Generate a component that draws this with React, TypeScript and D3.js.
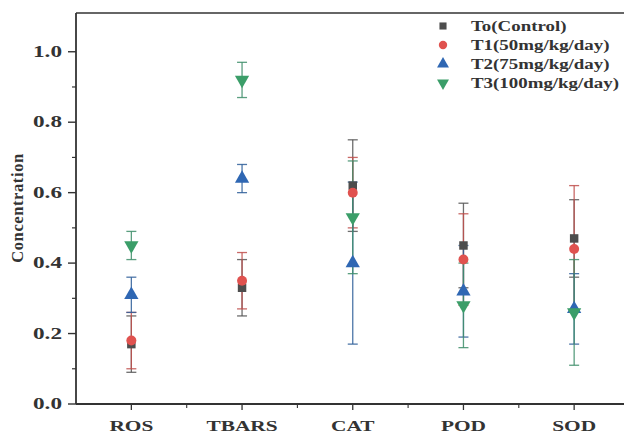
import React, { useRef, useEffect } from 'react';
import * as d3 from 'd3';

const categories = ['ROS', 'TBARS', 'CAT', 'POD', 'SOD'];
const seriesNames = ['To(Control)', 'T1(50mg/kg/day)', 'T2(75mg/kg/day)', 'T3(100mg/kg/day)'];

// means and error (± sd) for each group, per category
const t0Mean = [0.17, 0.33, 0.62, 0.45, 0.47];
const t0Err = [0.08, 0.08, 0.13, 0.12, 0.11];
const t1Mean = [0.18, 0.35, 0.60, 0.41, 0.44];
const t1Err = [0.08, 0.08, 0.10, 0.13, 0.18];
const t2Mean = [0.31, 0.64, 0.40, 0.32, 0.27];
const t2Err = [0.05, 0.04, 0.23, 0.13, 0.10];
const t3Mean = [0.45, 0.92, 0.53, 0.28, 0.26];
const t3Err = [0.04, 0.05, 0.16, 0.12, 0.15];

const yTicks = [0, 0.2, 0.4, 0.6, 0.8, 1.0];
const yMinorTicks = [0.1, 0.3, 0.5, 0.7, 0.9];

const colors = ['#4d4d4d', '#e0524f', '#2f67b3', '#3b9e69'];
const barColors = ['#555555', '#c0504d', '#2f5f9a', '#3f8f6b'];

function App() {
    const svgRef = useRef();

    useEffect(() => {
        const svg = d3.select(svgRef.current);
        svg.selectAll('*').remove();

        const W = 624;
        const left = 76, top = 13, bottom = 404;
        const x = d3.scaleLinear().domain([0.5, 5.5]).range([left, 629.5]);
        const y = d3.scaleLinear().domain([0, 1.11]).range([bottom, top]);
        const font = '"Times New Roman", "Liberation Serif", Times, serif';
        const sx = 1.38;

        const means = [t0Mean, t1Mean, t2Mean, t3Mean];
        const errs = [t0Err, t1Err, t2Err, t3Err];
        const shapes = [
            { type: d3.symbolSquare, size: 72, rot: 0 },
            { type: d3.symbolCircle, size: 78, rot: 0 },
            { type: d3.symbolTriangle, size: 88, rot: 0 },
            { type: d3.symbolTriangle, size: 88, rot: 180 },
        ];

        // frame
        svg.append('line').attr('x1', left).attr('x2', W).attr('y1', top).attr('y2', top)
            .attr('stroke', '#333').attr('stroke-width', 1.6);
        svg.append('line').attr('x1', left).attr('x2', left).attr('y1', top).attr('y2', bottom)
            .attr('stroke', '#333').attr('stroke-width', 1.8);
        svg.append('line').attr('x1', left).attr('x2', W).attr('y1', bottom).attr('y2', bottom)
            .attr('stroke', '#333').attr('stroke-width', 1.8);

        // y ticks
        svg.selectAll('.ytick').data(yTicks).join('line')
            .attr('x1', left - 8).attr('x2', left)
            .attr('y1', d => y(d)).attr('y2', d => y(d))
            .attr('stroke', '#333').attr('stroke-width', 1.4);
        svg.selectAll('.yminor').data(yMinorTicks).join('line')
            .attr('x1', left - 4).attr('x2', left)
            .attr('y1', d => y(d)).attr('y2', d => y(d))
            .attr('stroke', '#333').attr('stroke-width', 1.2);
        svg.selectAll('.ylab').data(yTicks).join('text')
            .attr('transform', d => `translate(62,${y(d) + 5}) scale(1.45,1)`)
            .attr('text-anchor', 'end')
            .attr('font-family', font).attr('font-weight', 'bold').attr('font-size', 16)
            .attr('fill', '#333')
            .text(d => d.toFixed(1));

        // x ticks
        const xIdx = categories.map((c, i) => i + 1);
        svg.selectAll('.xtick').data(xIdx).join('line')
            .attr('x1', d => x(d)).attr('x2', d => x(d))
            .attr('y1', bottom).attr('y2', bottom + 6)
            .attr('stroke', '#333').attr('stroke-width', 1.3);
        svg.selectAll('.xminor').data(xIdx.slice(0, 4).map(d => d + 0.5)).join('line')
            .attr('x1', d => x(d)).attr('x2', d => x(d))
            .attr('y1', bottom).attr('y2', bottom + 4)
            .attr('stroke', '#333').attr('stroke-width', 1.1);
        svg.selectAll('.xlab').data(categories).join('text')
            .attr('transform', (d, i) => `translate(${x(i + 1)},431) scale(${sx},1)`)
            .attr('text-anchor', 'middle')
            .attr('font-family', font).attr('font-weight', 'bold').attr('font-size', 15.5)
            .attr('fill', '#333')
            .text(d => d);

        // y axis title
        svg.append('text')
            .attr('transform', `translate(23,208) rotate(-90)`)
            .attr('text-anchor', 'middle')
            .attr('font-family', font).attr('font-weight', 'bold').attr('font-size', 16.5)
            .attr('letter-spacing', 0.6)
            .attr('fill', '#333')
            .text('Concentration');

        // error bars and markers
        means.forEach((m, s) => {
            const g = svg.append('g');
            const rows = m.map((v, i) => ({ i: i + 1, v, e: errs[s][i] }));
            g.selectAll('.stem').data(rows).join('line')
                .attr('x1', d => x(d.i)).attr('x2', d => x(d.i))
                .attr('y1', d => y(d.v + d.e)).attr('y2', d => y(d.v - d.e))
                .attr('stroke', barColors[s]).attr('stroke-width', 1.3).attr('opacity', 0.85);
            [1, -1].forEach(sign => {
                g.selectAll('.cap' + sign).data(rows).join('line')
                    .attr('x1', d => x(d.i) - 5).attr('x2', d => x(d.i) + 5)
                    .attr('y1', d => y(d.v + sign * d.e)).attr('y2', d => y(d.v + sign * d.e))
                    .attr('stroke', barColors[s]).attr('stroke-width', 1.3).attr('opacity', 0.85);
            });
        });
        means.forEach((m, s) => {
            const sym = d3.symbol().type(shapes[s].type).size(shapes[s].size);
            svg.append('g').selectAll('path').data(m).join('path')
                .attr('d', sym())
                .attr('transform', (v, i) => `translate(${x(i + 1)},${y(v)}) rotate(${shapes[s].rot})`)
                .attr('fill', colors[s]);
        });

        // legend
        const leg = svg.append('g');
        seriesNames.forEach((name, s) => {
            const ly = 26 + s * 19;
            const sym = d3.symbol().type(shapes[s].type).size(shapes[s].size * 0.7);
            leg.append('path').attr('d', sym())
                .attr('transform', `translate(443,${ly}) rotate(${shapes[s].rot})`)
                .attr('fill', colors[s]);
            leg.append('text')
                .attr('transform', `translate(471,${ly + 5}) scale(1.35,1)`)
                .attr('font-family', font).attr('font-weight', 'bold').attr('font-size', 14)
                .attr('fill', '#333')
                .text(name);
        });
    }, []);

    return (
        <svg ref={svgRef} width={624} height={434}
            style={{ position: 'absolute', left: 0, top: 0, background: '#fff' }}></svg>
    );
}

export default App;
